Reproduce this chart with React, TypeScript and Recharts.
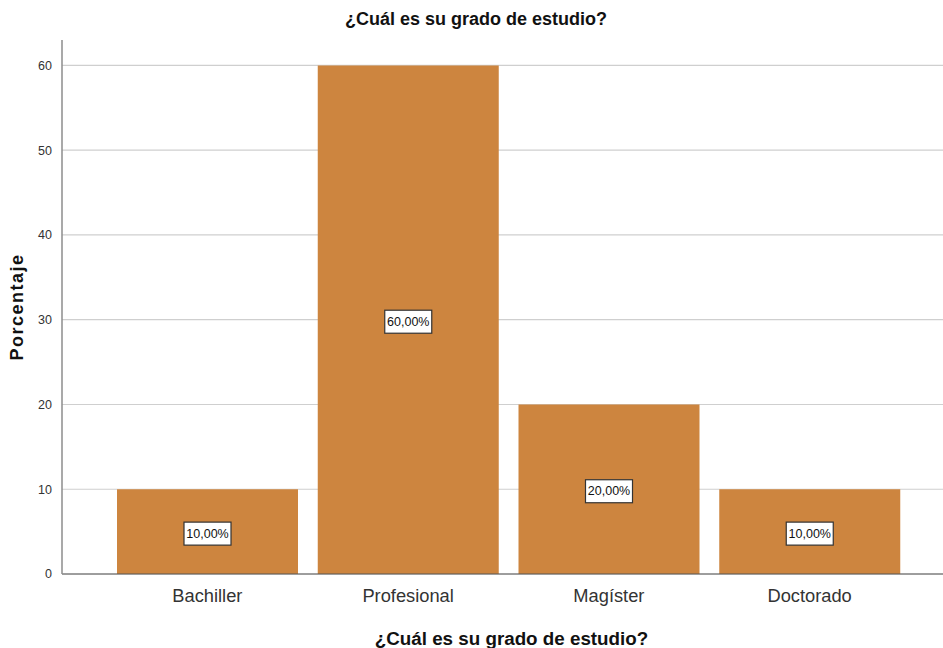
import { BarChart, Bar, XAxis, YAxis, CartesianGrid, LabelList } from 'recharts';

// Grado de estudio — percentages per category
const categories = ['Bachiller', 'Profesional', 'Magíster', 'Doctorado'];
const percentages = [10, 60, 20, 10];
const yTicks = [0, 10, 20, 30, 40, 50, 60];

const data = categories.map((name, i) => ({ name, value: percentages[i] }));

const FONT = '"Liberation Sans", Arial, sans-serif';

/** Boxed percentage label in the middle of each bar */
function BoxLabel(props: any) {
  const { x, y, width, height, value } = props;
  const cx = Number(x) + Number(width) / 2;
  const cy = Number(y) + Number(height) / 2 + 2;
  const text = `${Number(value).toFixed(2).replace('.', ',')}%`;
  const w = 47;
  const h = 23;
  return (
    <g>
      <rect
        x={cx - w / 2}
        y={cy - h / 2}
        width={w}
        height={h}
        fill="#ffffff"
        stroke="#333333"
        strokeWidth={1.2}
      />
      <text
        x={cx}
        y={cy}
        textAnchor="middle"
        dominantBaseline="central"
        fontSize={12.5}
        fontFamily={FONT}
        fill="#111111"
      >
        {text}
      </text>
    </g>
  );
}

export default function App() {
  return (
    <div
      style={{
        position: 'absolute',
        left: 0,
        top: 0,
        width: 943,
        height: 648,
        background: '#ffffff',
        fontFamily: FONT,
      }}
    >
      <div
        style={{
          position: 'absolute',
          top: 9,
          left: 0,
          width: 952,
          textAlign: 'center',
          fontSize: 18,
          fontWeight: 'bold',
          color: '#111',
        }}
      >
        ¿Cuál es su grado de estudio?
      </div>
      <BarChart
        width={943}
        height={648}
        data={data}
        margin={{ top: 40, right: 0, left: 0, bottom: 0 }}
      >
        <CartesianGrid
          vertical={false}
          horizontalValues={yTicks}
          stroke="#cfcfcf"
          strokeWidth={1.2}
        />
        <XAxis
          dataKey="name"
          height={74}
          padding={{ left: 45, right: 33 }}
          tickLine={false}
          axisLine={{ stroke: '#555555', strokeWidth: 1 }}
          tick={{ fontSize: 18.3, fill: '#333333', fontFamily: FONT }}
          tickMargin={9}
          label={{
            value: '¿Cuál es su grado de estudio?',
            position: 'insideBottom',
            offset: 3,
            dx: 9,
            style: { fontSize: 18.8, fontWeight: 'bold', fill: '#111', fontFamily: FONT },
          }}
        />
        <YAxis
          width={62}
          domain={[0, 63]}
          ticks={yTicks}
          tickLine={false}
          axisLine={{ stroke: '#8c8c8c', strokeWidth: 1.5 }}
          tick={{ fontSize: 12.5, fill: '#333333', fontFamily: FONT }}
          tickMargin={4}
          label={{
            value: 'Porcentaje',
            angle: -90,
            position: 'insideLeft',
            offset: 17,
            style: {
              fontSize: 18,
              fontWeight: 'bold',
              letterSpacing: 1.5,
              fill: '#111',
              fontFamily: FONT,
              textAnchor: 'middle',
            },
          }}
        />
        <Bar dataKey="value" fill="#CD853F" barSize={181} isAnimationActive={false}>
          <LabelList dataKey="value" content={BoxLabel} />
        </Bar>
      </BarChart>
    </div>
  );
}
